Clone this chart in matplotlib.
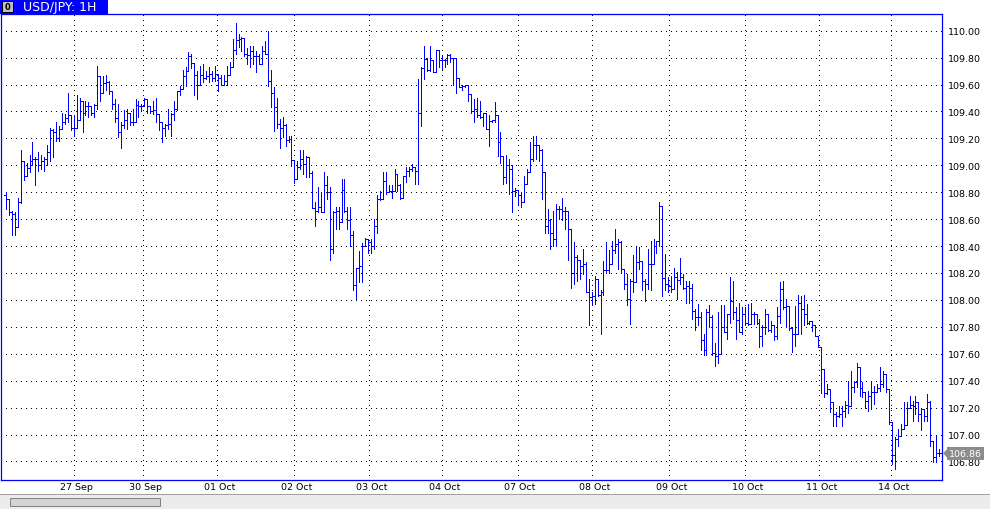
import matplotlib
matplotlib.use("Agg")
import matplotlib.pyplot as plt
from matplotlib.patches import Rectangle, Polygon
from matplotlib.transforms import ScaledTranslation

# ---------------- data (USD/JPY 1H) ----------------
highs = [108.80,108.71,108.66,108.65,108.76,109.11,109.03,109.02,109.08,109.17,
         109.06,109.10,109.08,109.06,109.15,109.28,109.27,109.32,109.29,109.39,
         109.38,109.54,109.37,109.37,109.52,109.50,109.42,109.48,109.47,109.43,
         109.455,109.74,109.60,109.666,109.67,109.63,109.55,109.49,109.455,109.32,
         109.41,109.42,109.37,109.42,109.49,109.48,109.455,109.50,109.49,109.44,
         109.48,109.50,109.38,109.32,109.31,109.42,109.39,109.48,109.55,109.59,
         109.71,109.73,109.84,109.83,109.715,109.70,109.74,109.75,109.70,109.73,
         109.70,109.74,109.68,109.67,109.67,109.74,109.77,109.94,110.055,109.975,
         109.95,109.945,109.875,109.89,109.89,109.85,109.83,109.89,109.925,110.00,
         109.71,109.58,109.50,109.344,109.36,109.31,109.22,109.22,109.03,109.03,
         109.11,109.11,109.07,109.06,108.96,108.73,108.84,108.80,108.95,108.92,
         108.84,108.66,108.69,108.69,108.90,108.90,108.69,108.69,108.51,108.24,
         108.36,108.42,108.46,108.45,108.45,108.60,108.78,108.81,108.947,108.947,
         108.85,108.85,108.97,108.86,108.86,108.92,108.985,108.985,109.01,108.985,
         109.64,109.73,109.89,109.80,109.89,109.78,109.855,109.855,109.81,109.79,
         109.826,109.83,109.80,109.66,109.65,109.60,109.60,109.60,109.53,109.49,
         109.50,109.48,109.39,109.39,109.37,109.34,109.47,109.37,109.245,109.07,
         109.08,109.05,109.00,108.835,108.80,108.80,108.92,108.97,109.17,109.22,
         109.215,109.145,109.12,108.95,108.675,108.60,108.66,108.71,108.70,108.76,
         108.69,108.61,108.415,108.43,108.33,108.30,108.38,108.28,108.155,108.06,
         108.18,108.155,108.07,108.29,108.43,108.37,108.44,108.53,108.45,108.44,
         108.23,108.19,108.155,108.33,108.39,108.39,108.29,108.155,108.38,108.44,
         108.45,108.44,108.73,108.70,108.34,108.17,108.175,108.24,108.205,108.31,
         108.19,108.14,108.14,108.12,107.93,107.97,107.91,107.75,107.93,107.96,
         107.89,107.68,107.91,107.96,107.96,107.895,108.17,108.14,107.945,107.98,
         107.945,107.945,107.97,107.98,107.907,107.895,107.86,107.81,107.93,107.895,
         107.845,107.81,107.945,108.135,108.14,108.005,107.955,107.795,107.955,108.04,
         108.03,108.04,107.97,107.845,107.845,107.81,107.73,107.52,107.387,107.375,
         107.337,107.24,107.164,107.214,107.214,107.25,107.40,107.474,107.40,107.53,
         107.41,107.387,107.313,107.325,107.40,107.362,107.375,107.499,107.474,107.387,
         107.313,107.00,106.98,107.04,107.078,107.239,107.239,107.288,107.25,107.288,
         107.239,107.19,107.19,107.30,107.25,106.954,106.99,106.89]

lows = [108.675,108.63,108.48,108.48,108.54,108.72,108.89,108.94,108.95,109.00,
        108.85,108.96,108.97,108.96,109.00,109.03,109.06,109.18,109.18,109.27,
        109.31,109.32,109.26,109.22,109.34,109.37,109.25,109.37,109.36,109.37,
        109.356,109.42,109.48,109.567,109.56,109.53,109.42,109.32,109.21,109.13,
        109.28,109.27,109.30,109.30,109.37,109.36,109.41,109.44,109.39,109.39,
        109.38,109.32,109.26,109.17,109.22,109.27,109.22,109.34,109.41,109.52,
        109.57,109.59,109.70,109.72,109.52,109.49,109.60,109.62,109.64,109.62,
        109.63,109.63,109.55,109.60,109.60,109.60,109.715,109.73,109.83,109.88,
        109.85,109.81,109.75,109.73,109.75,109.69,109.75,109.75,109.83,109.59,
        109.43,109.257,109.28,109.13,109.21,109.145,109.17,108.996,108.87,108.90,
        108.97,108.935,108.91,108.91,108.68,108.55,108.65,108.65,108.65,108.75,
        108.30,108.35,108.53,108.53,108.58,108.65,108.53,108.40,108.07,108.01,
        108.13,108.13,108.42,108.35,108.35,108.38,108.50,108.74,108.79,108.79,
        108.80,108.76,108.82,108.81,108.75,108.76,108.875,108.92,108.96,108.86,
        108.86,109.29,109.64,109.70,109.70,109.69,109.69,109.73,109.715,109.73,
        109.75,109.765,109.60,109.535,109.58,109.56,109.585,109.48,109.39,109.32,
        109.36,109.35,109.29,109.27,109.145,109.32,109.32,109.07,109.02,108.86,
        108.87,108.79,108.65,108.77,108.71,108.69,108.80,108.92,108.95,109.03,
        109.05,109.03,108.75,108.50,108.50,108.38,108.40,108.40,108.60,108.59,
        108.53,108.30,108.09,108.12,108.14,108.155,108.19,108.06,107.81,107.96,
        107.97,108.03,107.75,108.04,108.20,108.20,108.30,108.35,108.23,108.205,
        108.08,107.96,107.82,108.06,108.23,108.23,108.07,107.99,108.08,108.07,
        108.30,108.35,108.40,108.03,108.07,108.06,108.06,108.13,108.01,108.12,
        108.08,107.98,107.98,107.86,107.78,107.81,107.63,107.59,107.59,107.80,
        107.59,107.51,107.53,107.75,107.76,107.71,107.83,107.86,107.71,107.76,
        107.75,107.81,107.81,107.88,107.82,107.82,107.65,107.66,107.75,107.77,
        107.76,107.70,107.71,107.83,107.93,107.80,107.78,107.61,107.66,107.745,
        107.745,107.81,107.82,107.82,107.77,107.73,107.65,107.31,107.276,107.30,
        107.164,107.065,107.065,107.127,107.065,107.127,107.16,107.325,107.313,107.35,
        107.288,107.276,107.20,107.177,107.19,107.226,107.313,107.325,107.35,107.313,
        107.08,106.78,106.743,106.917,107.003,107.053,107.14,107.214,107.10,107.152,
        107.10,107.03,107.10,107.10,106.917,106.793,106.793,106.84]

closes = [108.75,108.65,108.64,108.54,108.73,109.03,108.92,108.98,109.03,109.05,
          109.05,109.00,109.03,109.05,109.10,109.26,109.25,109.20,109.27,109.32,
          109.35,109.37,109.28,109.28,109.34,109.48,109.39,109.44,109.44,109.39,
          109.45,109.66,109.54,109.61,109.62,109.55,109.455,109.35,109.25,109.30,
          109.34,109.39,109.32,109.32,109.45,109.44,109.44,109.49,109.44,109.40,
          109.41,109.38,109.32,109.275,109.30,109.31,109.38,109.42,109.55,109.57,
          109.66,109.70,109.81,109.76,109.67,109.60,109.67,109.65,109.66,109.68,
          109.65,109.68,109.65,109.60,109.63,109.67,109.73,109.86,109.93,109.94,
          109.945,109.83,109.82,109.85,109.81,109.81,109.75,109.85,109.83,109.63,
          109.54,109.43,109.31,109.28,109.30,109.19,109.195,109.04,108.90,108.985,
          109.05,109.01,109.06,108.94,108.68,108.66,108.69,108.65,108.85,108.80,
          108.38,108.65,108.66,108.58,108.82,108.66,108.59,108.48,108.11,108.24,
          108.25,108.40,108.45,108.43,108.40,108.55,108.75,108.75,108.885,108.80,
          108.81,108.81,108.935,108.85,108.76,108.92,108.955,108.97,108.985,108.96,
          109.39,109.72,109.79,109.71,109.78,109.69,109.855,109.78,109.78,109.78,
          109.82,109.80,109.80,109.65,109.585,109.59,109.595,109.53,109.405,109.42,
          109.37,109.36,109.39,109.27,109.33,109.34,109.37,109.17,109.07,108.91,
          109.00,108.97,108.81,108.82,108.78,108.73,108.86,108.95,109.05,109.15,
          109.15,109.11,108.95,108.55,108.595,108.50,108.45,108.675,108.675,108.66,
          108.66,108.53,108.20,108.32,108.30,108.25,108.27,108.06,108.02,108.03,
          108.155,108.04,108.06,108.22,108.22,108.27,108.37,108.415,108.43,108.23,
          108.12,108.01,108.14,108.13,108.28,108.29,108.14,108.12,108.27,108.27,
          108.40,108.435,108.70,108.16,108.12,108.10,108.08,108.17,108.15,108.17,
          108.09,108.10,108.09,107.92,107.87,107.87,107.70,107.63,107.91,107.87,
          107.605,107.585,107.60,107.80,107.76,107.895,107.99,107.91,107.85,107.76,
          107.895,107.83,107.82,107.895,107.895,107.83,107.73,107.80,107.895,107.78,
          107.81,107.73,107.88,108.08,107.945,107.955,107.79,107.745,107.745,107.98,
          107.93,107.895,107.83,107.845,107.81,107.73,107.65,107.486,107.31,107.337,
          107.24,107.15,107.135,107.15,107.177,107.22,107.214,107.35,107.387,107.50,
          107.342,107.318,107.25,107.288,107.313,107.318,107.342,107.375,107.45,107.337,
          107.09,106.85,106.966,106.986,107.04,107.07,107.20,107.219,107.214,107.24,
          107.152,107.19,107.14,107.24,106.954,106.83,106.86,106.86]

first_open = 108.78
opens = [first_open] + closes[:-1]

day_labels = ["27 Sep", "30 Sep", "01 Oct", "02 Oct", "03 Oct", "04 Oct",
              "07 Oct", "08 Oct", "09 Oct", "10 Oct", "11 Oct", "14 Oct"]
day_starts = [23, 46.5, 71.7, 97.75, 123.25, 148.25, 173.8, 199, 225.25, 251, 276.3, 300.7]

price_ticks = [106.80, 107.00, 107.20, 107.40, 107.60, 107.80, 108.00, 108.20,
               108.40, 108.60, 108.80, 109.00, 109.20, 109.40, 109.60, 109.80, 110.00]
last_price = 106.86
title = "USD/JPY: 1H"

# ---------------- figure ----------------
W, H = 990, 510
fig = plt.figure(figsize=(W / 100, H / 100), dpi=100)
fig.patch.set_facecolor("white")
BLUE = "#0000FF"

ax_l, ax_r, ax_t, ax_b = 1, 942, 15, 481
ax = fig.add_axes([ax_l / W, 1 - ax_b / H, (ax_r - ax_l) / W, (ax_b - ax_t) / H])
ax.set_facecolor("white")

n = len(closes)
xs = list(range(n))
px_per_unit = 134.6
ax.set_ylim(110 - (ax_b - 31.7) / px_per_unit, 110 + (31.7 - ax_t) / px_per_unit)
x_first, x_last = 6.0, 939.0
step = (x_last - x_first) / (n - 1)
ax.set_xlim(-(x_first - ax_l) / step, (n - 1) + (ax_r - x_last) / step)

tick = 0.62
lo = [min(l, o, c) for l, o, c in zip(lows, opens, closes)]
hi = [max(h, o, c) for h, o, c in zip(highs, opens, closes)]
ax.vlines(xs, lo, hi, color=BLUE, lw=0.72, antialiased=False, zorder=3)
ax.hlines(opens, [x - tick for x in xs], xs, color=BLUE, lw=0.72, antialiased=False, zorder=3)
ax.hlines(closes, xs, [x + tick for x in xs], color=BLUE, lw=0.72, antialiased=False, zorder=3)

# grid
ax.set_yticks(price_ticks)
ax.set_yticklabels([f"{p:.2f}" for p in price_ticks])
ax.set_xticks(day_starts)
ax.set_xticklabels(day_labels)
ax.grid(True, color="black", linestyle=(0, (1, 5)), linewidth=0.72, antialiased=False, zorder=1)
ax.yaxis.tick_right()
ax.tick_params(axis="both", length=0, labelsize=6.8, colors="black")
ax.tick_params(axis="y", pad=4.5)
ax.tick_params(axis="x", pad=1.5)
shift = ScaledTranslation(2.5 / 100, 0, fig.dpi_scale_trans)
for lab in ax.get_xticklabels():
    lab.set_fontfamily("DejaVu Sans")
    lab.set_transform(lab.get_transform() + shift)
for lab in ax.get_yticklabels():
    lab.set_fontfamily("DejaVu Sans")
for sp in ax.spines.values():
    sp.set_color(BLUE)
    sp.set_linewidth(0.9)

# last price tag
ax.annotate(f"{last_price:.2f}", xy=(1.0, last_price), xycoords=("axes fraction", "data"),
            xytext=(7, 0), textcoords="offset pixels", ha="left", va="center",
            fontsize=6.8, color="white", family="DejaVu Sans", zorder=6,
            bbox=dict(boxstyle="square,pad=0.18", fc="#8c8c8c", ec="none"),
            annotation_clip=False)
yfig = 1 - (31.7 + (110 - last_price) * px_per_unit) / H
fig.patches.append(Polygon([[943 / W, yfig], [950 / W, yfig + 7 / H], [950 / W, yfig - 7 / H]],
                           closed=True, fc="#8c8c8c", ec="none", transform=fig.transFigure, zorder=5))

# header tab
fig.patches.append(Rectangle((0, 1 - 15 / H), 108 / W, 15 / H, fc=BLUE, ec="none",
                             transform=fig.transFigure))
fig.patches.append(Rectangle((2 / W, 1 - 13 / H), 11 / W, 11 / H, fc="#c0c0c0", ec="black", lw=0.7,
                             transform=fig.transFigure))
fig.text(7.5 / W, 1 - 7.5 / H, "0", fontsize=6, ha="center", va="center", color="black",
         family="DejaVu Sans", weight="bold")
fig.text(23 / W, 1 - 8 / H, title, fontsize=9, ha="left", va="center", color="white",
         family="DejaVu Sans")

# bottom scrollbar area
fig.patches.append(Rectangle((0, 0), 1, 14 / H, fc="#ececec", ec="none", transform=fig.transFigure))
fig.patches.append(Rectangle((0, 14 / H), 1, 1 / H, fc="#a0a0a0", ec="none", transform=fig.transFigure))
fig.patches.append(Rectangle((10 / W, 3 / H), 150 / W, 8 / H, fc="#d4d4d4", ec="#808080", lw=0.7,
                             transform=fig.transFigure))

fig.savefig("out.png", dpi=100)
